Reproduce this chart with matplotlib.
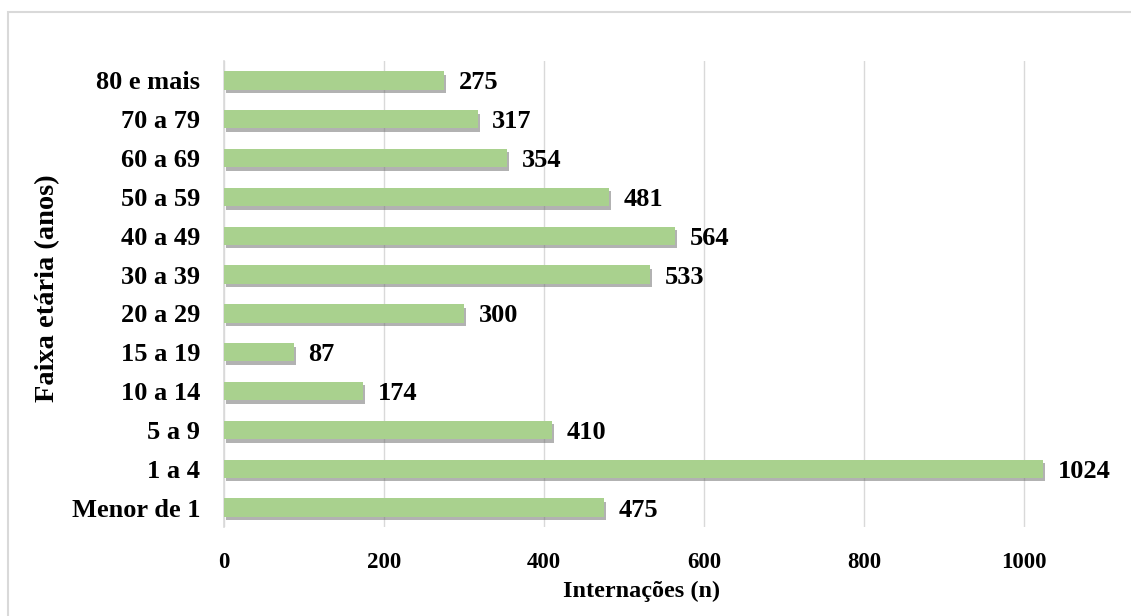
import matplotlib.pyplot as plt
import matplotlib.patheffects as pe
from matplotlib.patches import Rectangle

# Data, bottom to top as drawn
age_groups = ["Menor de 1", "1 a 4", "5 a 9", "10 a 14", "15 a 19", "20 a 29",
              "30 a 39", "40 a 49", "50 a 59", "60 a 69", "70 a 79", "80 e mais"]
admissions = [475, 1024, 410, 174, 87, 300, 533, 564, 481, 354, 317, 275]
x_ticks = [0, 200, 400, 600, 800, 1000]

BAR_COLOR = "#A9D18E"
GRID_COLOR = "#D9D9D9"
FONT = "Liberation Serif"

plt.rcParams["font.family"] = FONT
plt.rcParams["font.weight"] = "bold"

W, H = 1131, 616
fig = plt.figure(figsize=(W / 100, H / 100), dpi=100)
ax = fig.add_axes([224 / W, (H - 527) / H, 896 / W, (527 - 61) / H])

positions = range(len(age_groups))
bars = ax.barh(positions, admissions, height=0.47, color=BAR_COLOR, zorder=3)
for bar in bars:
    bar.set_path_effects([
        pe.SimplePatchShadow(offset=(1.5, -2.5), shadow_rgbFace="0.4", alpha=0.5),
        pe.Normal(),
    ])

for pos, value in zip(positions, admissions):
    ax.text(value + 18, pos, str(value), va="center_baseline", ha="left",
            fontsize=19, fontweight="bold", color="black", zorder=4)

ax.set_xlim(0, 1120)
ax.set_ylim(-0.5, len(age_groups) - 0.5)
ax.set_xticks(x_ticks)
ax.set_xticklabels([str(t) for t in x_ticks], fontsize=16.5, fontweight="bold")
ax.set_yticks(list(positions))
ax.set_yticklabels(age_groups, fontsize=19, fontweight="bold")
ax.tick_params(axis="both", length=0)
ax.tick_params(axis="x", pad=18)
ax.tick_params(axis="y", pad=17)
for label in ax.get_yticklabels():
    label.set_verticalalignment("center_baseline")

ax.grid(axis="x", color=GRID_COLOR, linewidth=1, zorder=0)
for side in ["top", "right", "bottom"]:
    ax.spines[side].set_visible(False)
ax.spines["left"].set_color(GRID_COLOR)
ax.spines["left"].set_linewidth(1.2)

fig.text(642 / W, 1 - 591 / H, "Internações (n)", ha="center", va="center",
         fontsize=17.5, fontweight="bold")
fig.text(48 / W, 1 - 288 / H, "Faixa etária (anos)", ha="center", va="center",
         rotation=90, fontsize=20.5, fontweight="bold")

# light outer frame (cropped on right and bottom)
fig.patches.append(Rectangle((8 / W, -0.1), 1.2, 1 - 12 / H + 0.1,
                             transform=fig.transFigure, fill=False,
                             edgecolor=GRID_COLOR, linewidth=1.5))

fig.savefig("out.png", dpi=100, facecolor="white")
